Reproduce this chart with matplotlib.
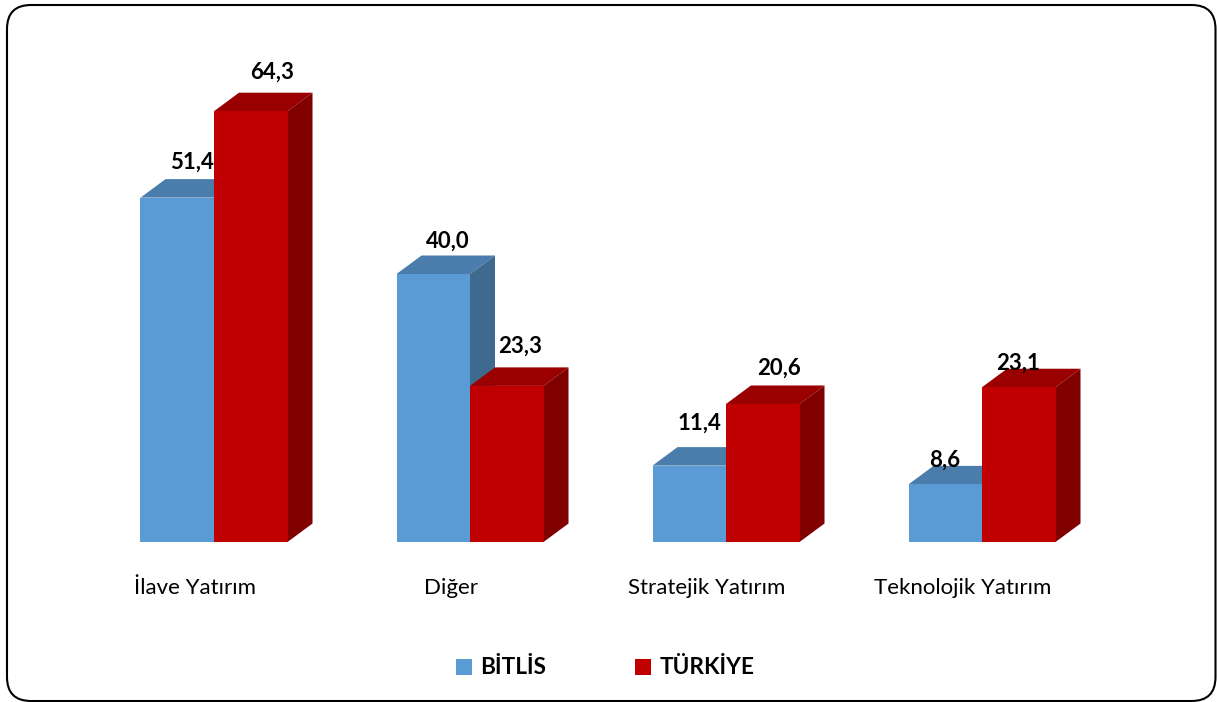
import matplotlib
matplotlib.use("Agg")
import matplotlib.pyplot as plt
from matplotlib.patches import Polygon, Rectangle, FancyBboxPatch
from matplotlib.lines import Line2D
from matplotlib.transforms import IdentityTransform

plt.rcParams["font.family"] = ["Lato", "DejaVu Sans"]

categories = ["İlave Yatırım", "Diğer", "Stratejik Yatırım", "Teknolojik Yatırım"]
bitlis = [51.4, 40.0, 11.4, 8.6]
turkiye = [64.3, 23.3, 20.6, 23.1]
series_names = ["BİTLİS", "TÜRKİYE"]

# Değer etiketleri için elle kaydırma (piksel)
bitlis_offsets = [(15, 35), (15, 33), (10, 42), (-1, 24)]
turkiye_offsets = [(21, 39), (13, 40), (16, 36), (-1, 24)]

W, H = 1217, 702
X0, PITCH = 214.0, 256.0     # piksel: ilk kategori merkezi, kategori aralığı
Y0, PX_PER_UNIT = 542.0, 6.70

BAR_W = 73.5 / PITCH
DX = 25.0 / PITCH            # 3B derinlik
DY = 18.5 / PX_PER_UNIT

BLUE = ("#5B9BD5", "#4A7DAB", "#3F6A90")
RED = ("#C00000", "#9A0000", "#800000")


def draw_bar(ax, x, v, colors):
    front, top, side = colors
    ax.add_patch(Rectangle((x, 0), BAR_W, v, fc=front, ec="none", zorder=3))
    ax.add_patch(Polygon([(x, v), (x + BAR_W, v), (x + BAR_W + DX, v + DY), (x + DX, v + DY)],
                         fc=top, ec="none", zorder=2))
    ax.add_patch(Polygon([(x + BAR_W, 0), (x + BAR_W + DX, DY), (x + BAR_W + DX, v + DY), (x + BAR_W, v)],
                         fc=side, ec="none", zorder=2))


def draw_value(ax, x, v, offset):
    ax.annotate(f"{v:.1f}".replace(".", ","), xy=(x + BAR_W / 2, v), xytext=offset,
                textcoords="offset pixels", ha="center", va="center",
                fontsize=16, fontweight="bold", color="black", zorder=5)


fig = plt.figure(figsize=(W / 100, H / 100), dpi=100)
ax = fig.add_axes([0, 0, 1, 1])
ax.set_xlim(-X0 / PITCH, (W - X0) / PITCH)
ax.set_ylim(-(H - Y0) / PX_PER_UNIT, Y0 / PX_PER_UNIT)
ax.axis("off")

# Yuvarlak köşeli çerçeve
fig.add_artist(FancyBboxPatch((7, H - 701), 1208.5, 696,
                              boxstyle="round,pad=0,rounding_size=24",
                              transform=IdentityTransform(),
                              fc="white", ec="black", lw=1.5, zorder=-1))

for i, cat in enumerate(categories):
    # İki seri tam bitişik, kategori merkezinin iki yanında
    draw_bar(ax, i - BAR_W, bitlis[i], BLUE)
    draw_bar(ax, i, turkiye[i], RED)
    draw_value(ax, i - BAR_W, bitlis[i], bitlis_offsets[i])
    draw_value(ax, i, turkiye[i], turkiye_offsets[i])
    ax.text(i - 0.076, -46 / PX_PER_UNIT, cat, ha="center", va="center", fontsize=16, color="black")

handles = [Line2D([], [], marker="s", ls="none", ms=11.3, mew=0, color=BLUE[0]),
           Line2D([], [], marker="s", ls="none", ms=11.3, mew=0, color=RED[0])]
leg = ax.legend(handles, series_names, ncol=2, frameon=False, loc="center",
                bbox_to_anchor=(603.5 / W, 1 - 668 / H), columnspacing=3.8, handlelength=1.0,
                handletextpad=0.2, prop={"size": 16.3, "weight": "bold"})

fig.savefig("out.png", dpi=100)
